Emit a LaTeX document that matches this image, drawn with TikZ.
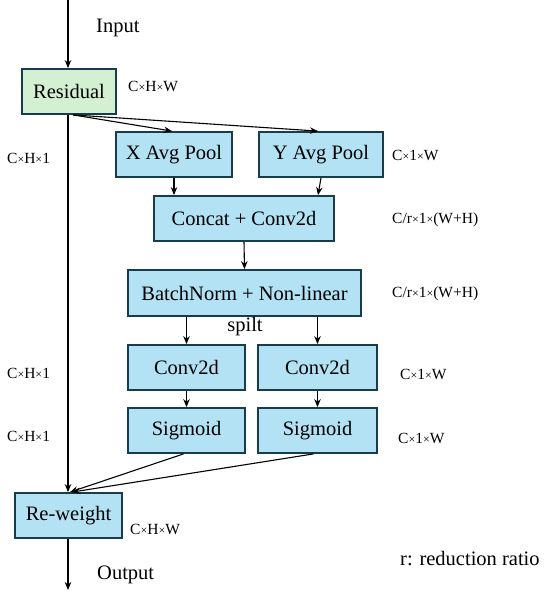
\documentclass[tikz,border=0pt]{standalone}
\usepackage{fontspec}
\setmainfont{Liberation Serif}
\newfontfamily\tnr{Liberation Serif}
\usetikzlibrary{arrows.meta}
\definecolor{boxblue}{RGB}{178,226,243}
\definecolor{boxgreen}{RGB}{212,240,210}
\definecolor{boxedge}{RGB}{25,60,75}
\tikzset{
  blk/.style={draw=boxedge, line width=1.8pt, fill=boxblue, inner sep=0pt, font=\tnr\fontsize{20.5}{22}\selectfont},
  gblk/.style={blk, fill=boxgreen},
  lbl/.style={inner sep=0pt, anchor=west, font=\tnr\fontsize{15.5}{17}\selectfont},
  txt/.style={inner sep=0pt, anchor=west, font=\tnr\fontsize{20.5}{22}\selectfont},
  conn/.style={line width=1.1pt, -{Stealth[length=8pt,width=6.5pt]}},
}
\newcommand{\tms}{{\fontsize{12}{12}\selectfont\texttimes}}
\begin{document}
\begin{tikzpicture}[x=1pt,y=-1pt]
\useasboundingbox (0,0) rectangle (550,599);
\node[gblk, minimum width=94pt, minimum height=45pt] (res) at (69,91.5) {Residual};
\node[blk, minimum width=116pt, minimum height=45pt] (xp) at (174,154.5) {X Avg Pool};
\node[blk, minimum width=124pt, minimum height=45pt] (yp) at (321,154.5) {Y Avg Pool};
\node[blk, minimum width=180pt, minimum height=45pt] (cc) at (244,218.5) {Concat + Conv2d};
\node[blk, minimum width=233pt, minimum height=46pt] (bn) at (244.5,293) {BatchNorm + Non-linear};
\node[blk, minimum width=117pt, minimum height=45pt] (cl) at (186.5,367.5) {Conv2d};
\node[blk, minimum width=119pt, minimum height=45pt] (cr) at (317.5,367.5) {Conv2d};
\node[blk, minimum width=117pt, minimum height=45pt] (sl) at (186.5,430.5) {Sigmoid};
\node[blk, minimum width=119pt, minimum height=45pt] (sr) at (317.5,430.5) {Sigmoid};
\node[blk, minimum width=107pt, minimum height=45pt] (rw) at (68.5,515.5) {Re-weight};
\coordinate (top) at (68,0);
\coordinate (bot) at (68,590);
% labels
\node[txt] (tin) at (96,28) {Input};
\node[lbl] (l1) at (128,86) {C\tms H\tms W};
\node[lbl] (l2) at (7,158) {C\tms H\tms 1};
\node[lbl] (l3) at (392,155) {C\tms 1\tms W};
\node[lbl] (l4) at (392,220) {C/r\tms 1\tms (W+H)};
\node[lbl] (l5) at (392,294) {C/r\tms 1\tms (W+H)};
\node[txt, anchor=center] (tsp) at (245,327) {spilt};
\node[lbl] (l6) at (7,373) {C\tms H\tms 1};
\node[lbl] (l7) at (400,374) {C\tms 1\tms W};
\node[lbl] (l8) at (7,436) {C\tms H\tms 1};
\node[lbl] (l9) at (398,438) {C\tms 1\tms W};
\node[lbl] (l10) at (130,529) {C\tms H\tms W};
\node[txt] (tout) at (97,575) {Output};
\node[txt] (tr) at (400,559) {r: reduction ratio};
% connectors
\draw[conn] (top) -- (top |- res.north);
\draw[conn] (top |- res.south) -- (top |- rw.north);
\draw[conn] ([xshift=4pt]res.south) -- ([xshift=-2pt]xp.north);
\draw[conn] ([xshift=4pt]res.south) -- ([xshift=-3pt]yp.north);
\draw[conn] (xp.south) -- (xp.south |- cc.north);
\draw[conn] (yp.south) -- ([xshift=74pt]cc.north);
\draw[conn] (cc.south) -- (bn.north);
\draw[conn] (cl.north |- bn.south) -- (cl.north);
\draw[conn] (cr.north |- bn.south) -- (cr.north);
\draw[conn] (cl.south) -- (sl.north);
\draw[conn] (cr.south) -- (sr.north);
\draw[conn] ([xshift=-3pt]sl.south) -- ([xshift=1.5pt]rw.north);
\draw[conn] ([xshift=-4pt]sr.south) -- ([xshift=3.5pt]rw.north);
\draw[conn] (rw.south -| top) -- (bot);
\end{tikzpicture}
\end{document}
